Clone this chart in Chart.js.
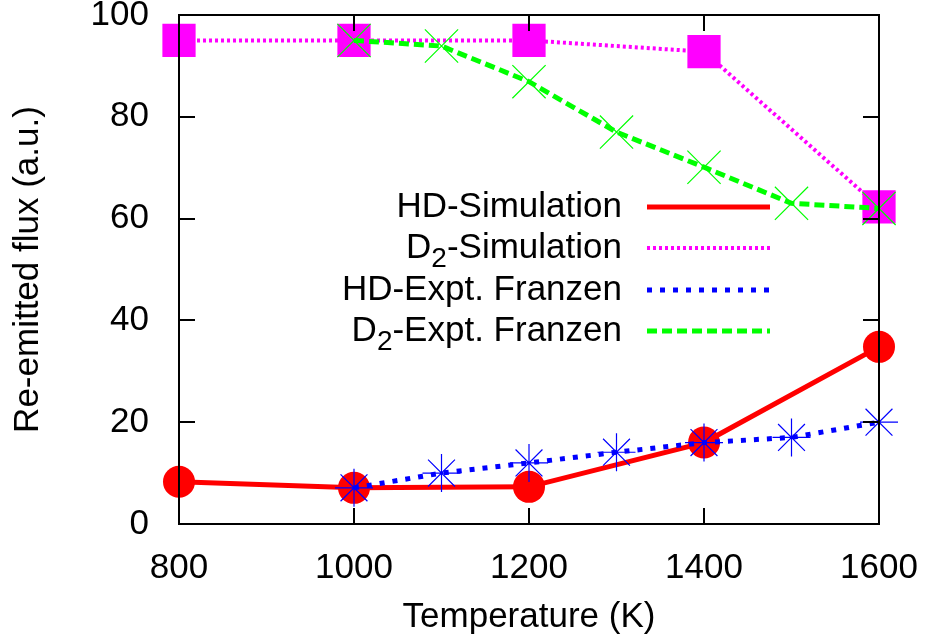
<!DOCTYPE html>
<html>
<head>
<meta charset="utf-8">
<script src="https://cdn.jsdelivr.net/npm/chart.js@4/dist/chart.umd.min.js"></script>
<style>
  html, body { margin: 0; padding: 0; background: #fff; }
  #wrap { width: 929px; height: 644px; }
</style>
</head>
<body>
<div id="wrap"><canvas id="fluxChart" width="929" height="644"></canvas></div>
<script>
// Simulation temperatures
const simTemps = [800, 1000, 1200, 1400, 1600];
const hdSim = [8.3, 7.1, 7.3, 16.0, 34.8];
const d2Sim = [95.0, 95.0, 95.0, 92.8, 62.3];

// Experiment (Franzen) temperatures
const exptTemps = [1000, 1100, 1200, 1300, 1400, 1500, 1600];
const hdExpt = [7.1, 10.0, 12.0, 14.1, 16.0, 17.0, 20.0];
const d2Expt = [95.0, 93.9, 86.9, 77.0, 70.1, 63.0, 62.0];

const xTicks = [800, 1000, 1200, 1400, 1600];
const yTicks = [0, 20, 40, 60, 80, 100];

const FONT = '"Liberation Sans", Arial, sans-serif';

function pts(xs, ys) {
    return xs.map((x, i) => ({ x: x, y: ys[i] }));
}

// gnuplot style frame with inward ticks on all four sides
const framePlugin = {
    id: 'frame',
    afterDatasetsDraw(chart) {
        const { ctx, chartArea: a, scales } = chart;
        const len = 16;
        ctx.save();
        ctx.strokeStyle = '#000';
        ctx.lineWidth = 2;
        ctx.beginPath();
        scales.x.ticks.forEach(t => {
            const px = Math.round(scales.x.getPixelForValue(t.value));
            ctx.moveTo(px, a.bottom); ctx.lineTo(px, a.bottom - len);
            ctx.moveTo(px, a.top); ctx.lineTo(px, a.top + len);
        });
        scales.y.ticks.forEach(t => {
            const py = Math.round(scales.y.getPixelForValue(t.value));
            ctx.moveTo(a.left, py); ctx.lineTo(a.left + len, py);
            ctx.moveTo(a.right, py); ctx.lineTo(a.right - len, py);
        });
        ctx.stroke();
        ctx.strokeRect(a.left, a.top, a.right - a.left, a.bottom - a.top);
        ctx.restore();
    }
};

// Legend in the plot area, text right-aligned, sample line to the right
const legendPlugin = {
    id: 'gpLegend',
    afterDatasetsDraw(chart) {
        const ctx = chart.ctx;
        const textRight = 622;
        const x0 = 647, x1 = 770;
        const rowY = [207, 248, 290, 331];
        ctx.save();
        ctx.fillStyle = '#000';
        ctx.textBaseline = 'middle';
        chart.data.datasets.forEach((ds, i) => {
            const y = rowY[i];
            const parts = ds.labelParts;
            ctx.font = '35px ' + FONT;
            const w0 = ctx.measureText(parts[0]).width;
            const w2 = ctx.measureText(parts[2]).width;
            ctx.font = '28px ' + FONT;
            const w1 = ctx.measureText(parts[1]).width;
            let x = textRight - (w0 + w1 + w2);
            ctx.textAlign = 'left';
            ctx.font = '35px ' + FONT;
            ctx.fillText(parts[0], x, y);
            x += w0;
            if (parts[1]) {
                ctx.font = '28px ' + FONT;
                ctx.fillText(parts[1], x, y + 11);
                x += w1;
            }
            ctx.font = '35px ' + FONT;
            ctx.fillText(parts[2], x, y);

            ctx.strokeStyle = ds.borderColor;
            ctx.lineWidth = ds.borderWidth;
            ctx.setLineDash(ds.borderDash || []);
            ctx.beginPath();
            ctx.moveTo(x0, y);
            ctx.lineTo(x1, y);
            ctx.stroke();
            ctx.setLineDash([]);
        });
        ctx.restore();
    }
};

const ctx = document.getElementById('fluxChart');

new Chart(ctx, {
    type: 'scatter',
    data: {
        datasets: [
            {
                label: 'HD-Simulation',
                labelParts: ['HD-Simulation', '', ''],
                data: pts(simTemps, hdSim),
                showLine: true,
                clip: false,
                borderColor: '#ff0000',
                backgroundColor: '#ff0000',
                borderWidth: 5,
                pointStyle: 'circle',
                pointRadius: 16,
                pointBorderWidth: 0,
                order: 4
            },
            {
                label: 'D2-Simulation',
                labelParts: ['D', '2', '-Simulation'],
                data: pts(simTemps, d2Sim),
                showLine: true,
                clip: false,
                borderColor: '#ff00ff',
                backgroundColor: '#ff00ff',
                borderWidth: 4,
                borderDash: [3, 3],
                pointStyle: 'rect',
                pointRadius: 23.5,
                pointBorderWidth: 0,
                order: 3
            },
            {
                label: 'HD-Expt. Franzen',
                labelParts: ['HD-Expt. Franzen', '', ''],
                data: pts(exptTemps, hdExpt),
                showLine: true,
                clip: false,
                borderColor: '#0000ff',
                backgroundColor: '#0000ff',
                borderWidth: 5,
                borderDash: [5, 8],
                pointStyle: 'star',
                pointRadius: 19,
                pointBorderWidth: 1.2,
                order: 2
            },
            {
                label: 'D2-Expt. Franzen',
                labelParts: ['D', '2', '-Expt. Franzen'],
                data: pts(exptTemps, d2Expt),
                showLine: true,
                clip: false,
                borderColor: '#00ff00',
                backgroundColor: '#00ff00',
                borderWidth: 5,
                borderDash: [10, 5],
                pointStyle: 'crossRot',
                pointRadius: 23.5,
                pointBorderWidth: 1.2,
                order: 1
            }
        ]
    },
    options: {
        responsive: false,
        animation: false,
        layout: { autoPadding: false, padding: { top: 15, right: 50, bottom: 0, left: 0 } },
        plugins: {
            legend: { display: false },
            tooltip: { enabled: false }
        },
        scales: {
            x: {
                type: 'linear',
                min: 800,
                max: 1600,
                afterBuildTicks: (scale) => { scale.ticks = xTicks.map(v => ({ value: v })); },
                afterFit: (scale) => {
                    scale.height = 120;
                    scale.paddingLeft = 0;
                    scale.paddingRight = 0;
                },
                grid: { display: false },
                border: { display: false },
                ticks: {
                    color: '#000',
                    padding: 15,
                    maxRotation: 0,
                    font: { family: FONT, size: 35 },
                    callback: (v) => String(v)
                },
                title: {
                    display: true,
                    text: 'Temperature (K)',
                    color: '#000',
                    font: { family: FONT, size: 35 },
                    padding: { top: 0, bottom: 6 }
                }
            },
            y: {
                min: 0,
                max: 100,
                afterBuildTicks: (scale) => { scale.ticks = yTicks.map(v => ({ value: v })); },
                afterFit: (scale) => {
                    scale.width = 179;
                    scale.paddingTop = 0;
                    scale.paddingBottom = 0;
                },
                grid: { display: false },
                border: { display: false },
                ticks: {
                    color: '#000',
                    padding: 22,
                    font: { family: FONT, size: 35 },
                    callback: (v) => String(v)
                },
                title: {
                    display: true,
                    text: 'Re-emitted flux (a.u.)',
                    color: '#000',
                    font: { family: FONT, size: 35 },
                    padding: { top: 7, bottom: 0 }
                }
            }
        }
    },
    plugins: [framePlugin, legendPlugin]
});
</script>
</body>
</html>
